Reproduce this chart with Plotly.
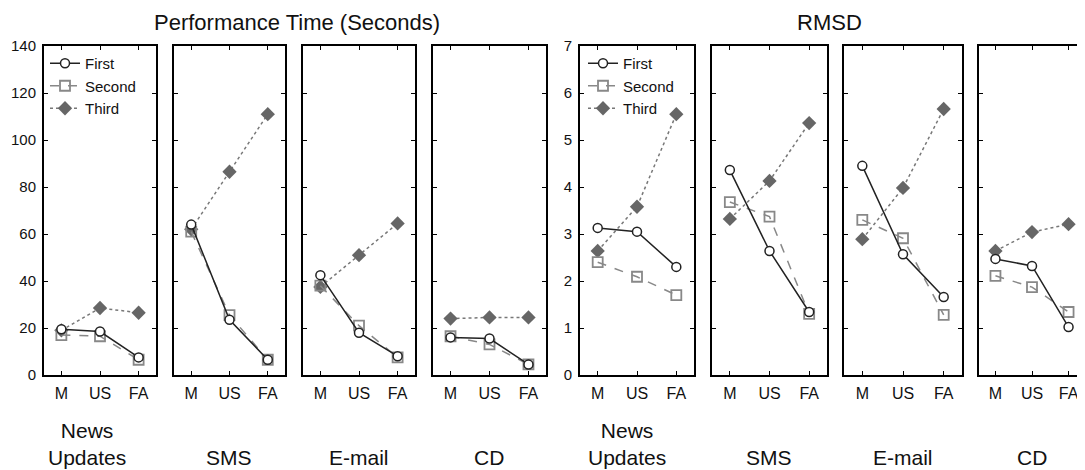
import plotly.graph_objects as go

categories = ["M", "US", "FA"]
group_labels = ["News<br>Updates", "SMS", "E-mail", "CD"]
series_names = ["First", "Second", "Third"]

# Performance time (seconds): one list per group (News Updates, SMS, E-mail, CD)
time_first = [[19.5, 18.5, 7.5], [64, 23.5, 6.5], [42.5, 18, 8], [16, 15.5, 4.5]]
time_second = [[17, 16.5, 6.5], [61, 25.5, 6.5], [38, 21, 7.5], [16.5, 13, 4.5]]
time_third = [[19, 28.5, 26.5], [62, 86.5, 111], [37.5, 51, 64.5], [24, 24.5, 24.5]]

# RMSD
rmsd_first = [[3.13, 3.05, 2.3], [4.36, 2.64, 1.34], [4.45, 2.57, 1.66], [2.47, 2.32, 1.02]]
rmsd_second = [[2.4, 2.09, 1.7], [3.68, 3.37, 1.3], [3.3, 2.91, 1.28], [2.11, 1.87, 1.34]]
rmsd_third = [[2.64, 3.58, 5.55], [3.32, 4.13, 5.36], [2.89, 3.98, 5.66], [2.64, 3.04, 3.21]]

time_ticks = [0, 20, 40, 60, 80, 100, 120, 140]
rmsd_ticks = [0, 1, 2, 3, 4, 5, 6, 7]

W, H = 1085, 470
OFF = 8  # page body margin in the browser
FONT = "Liberation Sans, Arial, sans-serif"


def px_x(sx):
    return (sx - OFF) / W


def px_y(sy):
    return 1 - (sy - OFF) / H


panel_px = [(44, 156), (174, 285), (303, 415), (433, 546),
            (580, 694), (712, 827), (844, 962), (979, 1085)]
y_top, y_bot = 46, 375

styles = {
    "First": dict(line=dict(color="#222222", width=1.5, dash="solid"),
                  marker=dict(symbol="circle", size=9, color="white",
                              line=dict(color="#222222", width=1.5))),
    "Second": dict(line=dict(color="#888888", width=1.5, dash="dash"),
                   marker=dict(symbol="square-open", size=10, color="#888888",
                               line=dict(color="#888888", width=1.8))),
    "Third": dict(line=dict(color="#777777", width=1.5, dash="dot"),
                  marker=dict(symbol="diamond", size=11, color="#666666",
                              line=dict(color="#666666", width=0))),
}

fig = go.Figure()
layout = {}

metrics = [
    (time_first, time_second, time_third, time_ticks, [0, 140], "legend"),
    (rmsd_first, rmsd_second, rmsd_third, rmsd_ticks, [0, 7], "legend2"),
]

idx = 0
for m, (s1, s2, s3, ticks, yr, leg) in enumerate(metrics):
    data = {"First": s1, "Second": s2, "Third": s3}
    for g in range(4):
        idx += 1
        xa = "x" if idx == 1 else f"x{idx}"
        ya = "y" if idx == 1 else f"y{idx}"
        for rank, name in zip([3, 2, 1], ["Third", "Second", "First"]):
            st = styles[name]
            fig.add_trace(go.Scatter(
                x=categories, y=data[name][g], mode="lines+markers",
                name=name, line=st["line"], marker=st["marker"],
                xaxis=xa, yaxis=ya, legend=leg, legendrank=rank,
                showlegend=(g == 0), cliponaxis=False,
            ))
        x0, x1 = panel_px[idx - 1]
        xkey = "xaxis" if idx == 1 else f"xaxis{idx}"
        ykey = "yaxis" if idx == 1 else f"yaxis{idx}"
        layout[xkey] = dict(
            domain=[px_x(x0), min(px_x(x1), 1.0)], anchor=ya, type="category",
            range=[-0.45, 2.45], showline=True, linecolor="black", linewidth=2,
            mirror="ticks", ticks="inside", ticklen=4, tickcolor="black",
            showgrid=False, zeroline=False, fixedrange=True, automargin=False,
            tickfont=dict(family=FONT, size=16, color="#111111"),
            ticklabelstandoff=3,
        )
        layout[ykey] = dict(
            domain=[px_y(y_bot), px_y(y_top)], anchor=xa, range=yr,
            tickvals=ticks, showticklabels=(g == 0),
            showline=True, linecolor="black", linewidth=2,
            mirror="ticks", ticks="inside", ticklen=4, tickcolor="black",
            showgrid=False, zeroline=False, fixedrange=True, automargin=False,
            tickfont=dict(family=FONT, size=15, color="#111111"),
            ticklabelstandoff=3,
        )

leg_common = dict(xanchor="left", yanchor="top", bgcolor="rgba(0,0,0,0)",
                  font=dict(family=FONT, size=15, color="#111111"),
                  itemwidth=30, tracegroupgap=0)
layout["legend"] = dict(x=px_x(45), y=px_y(47), **leg_common)
layout["legend2"] = dict(x=px_x(583), y=px_y(47), **leg_common)

annotations = [
    dict(text="Performance Time (Seconds)", x=px_x(297), y=px_y(22)),
    dict(text="RMSD", x=px_x(829), y=px_y(22)),
]
for a in annotations:
    a.update(xref="paper", yref="paper", showarrow=False, xanchor="center",
             yanchor="middle", font=dict(family=FONT, size=22, color="#111111"))

label_x = [87, 229, 359, 489, 627, 769, 903, 1032]
for i, xpx in enumerate(label_x):
    two_line = "<br>" in group_labels[i % 4]
    annotations.append(dict(
        text=group_labels[i % 4], x=px_x(xpx),
        y=px_y(444 if two_line else 457), xref="paper",
        yref="paper", showarrow=False, xanchor="center", yanchor="middle",
        align="center", font=dict(family=FONT, size=21, color="#111111"),
    ))

fig.update_layout(
    width=W, height=H, autosize=False,
    margin=dict(l=0, r=0, t=0, b=0, pad=0, autoexpand=False),
    paper_bgcolor="white", plot_bgcolor="white",
    annotations=annotations, **layout,
)

fig.write_html("out.html")
